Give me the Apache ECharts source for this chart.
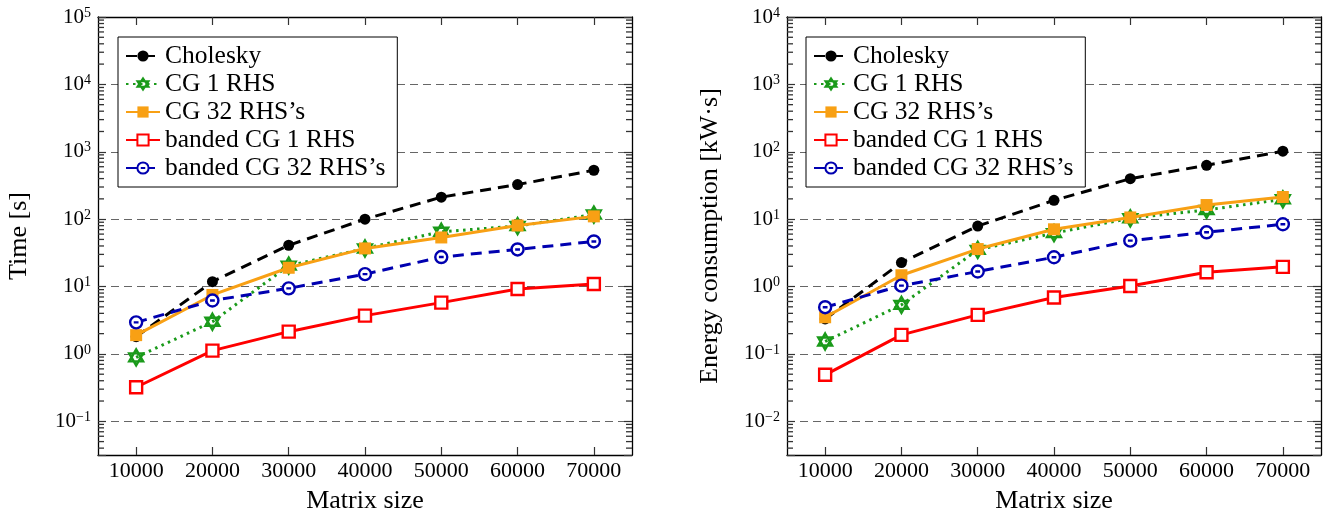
<!DOCTYPE html>
<html>
<head>
<meta charset="utf-8">
<script src="https://cdn.jsdelivr.net/npm/echarts@6/dist/echarts.min.js"></script>
<style>
  html, body { margin: 0; padding: 0; background: #fff; }
  #chart-container { width: 1326px; height: 521px; }
</style>
</head>
<body>
<div id="chart-container"></div>
<script>
var dom = document.getElementById('chart-container');
var myChart = echarts.init(dom, null, { renderer: 'canvas' });

// datos
var matrixSizes = ['10000', '20000', '30000', '40000', '50000', '60000', '70000'];
var seriesNames = ['Cholesky', 'CG 1 RHS', 'CG 32 RHS\u2019s', 'banded CG 1 RHS', 'banded CG 32 RHS\u2019s'];

// tiempo [s]
var timeCholesky = [1.8, 11.8, 41, 100, 212, 326, 532];
var timeCg1 = [0.89, 3.0, 20.4, 36.7, 65, 79, 117];
var timeCg32 = [1.9, 7.5, 19, 36.8, 53.5, 80.5, 110];
var timeBanded1 = [0.32, 1.12, 2.14, 3.7, 5.77, 9.2, 10.9];
var timeBanded32 = [2.94, 6.2, 9.4, 15.3, 27.4, 35.5, 46.7];

// energia [kW·s]
var energyCholesky = [0.33, 2.27, 7.9, 19, 39.8, 63, 102];
var energyCg1 = [0.153, 0.535, 3.5, 6.2, 10.3, 13.7, 19.7];
var energyCg32 = [0.35, 1.47, 3.6, 7.07, 10.6, 16.2, 21.3];
var energyBanded1 = [0.049, 0.192, 0.38, 0.687, 1.02, 1.63, 1.96];
var energyBanded32 = [0.494, 1.03, 1.67, 2.72, 4.8, 6.38, 8.4];

// rango de los ejes (exponentes de 10)
var timeExpRange = [-1.5, 5];
var energyExpRange = [-2.5, 4];
var minorMantissas = [2, 3, 4, 5, 6, 7, 8, 9];

var FONT = 'Liberation Serif';
var GREEN = '#1a9a1a';
var ORANGE = '#f8a014';
var BLUE = '#0000b0';
var RED = '#ff0000';
var TICK = '#333';

var STAR = 'path://M0,-10L8.66,5L-8.66,5Z M0,10L8.66,-5L-8.66,-5Z';
var OCIRC = 'path://M10,0A10,10,0,1,1,-10,0A10,10,0,1,1,10,0Z M-4,0L4,0';

// marcas menores: x = 0 (borde izquierdo) y x = 1 (borde derecho) en un eje oculto
function minorValues(range) {
  var out = [];
  for (var e = Math.floor(range[0]); e < range[1]; e++) {
    minorMantissas.forEach(function (m) {
      var v = m * Math.pow(10, e);
      var lv = Math.log10(v);
      if (lv > range[0] && lv < range[1]) {
        out.push({ value: [0, v], symbolOffset: [3, 0] });
        out.push({ value: [1, v], symbolOffset: [-3, 0] });
      }
    });
  }
  return out;
}

function makeSeries(g, data) {
  var styles = [
    { symbol: 'circle', symbolSize: 11, line: { color: '#000', type: [11, 7], width: 3 }, item: { color: '#000' } },
    { symbol: STAR, symbolSize: 16, line: { color: GREEN, type: [2.5, 4.5], width: 3 }, item: { color: '#fff', borderColor: GREEN, borderWidth: 2.4 } },
    { symbol: 'rect', symbolSize: 12, line: { color: ORANGE, type: 'solid', width: 3 }, item: { color: ORANGE } },
    { symbol: 'rect', symbolSize: 12, line: { color: RED, type: 'solid', width: 3 }, item: { color: '#fff', borderColor: RED, borderWidth: 2.4 } },
    { symbol: OCIRC, symbolSize: 12, line: { color: BLUE, type: [11, 7], width: 3 }, item: { color: '#fff', borderColor: BLUE, borderWidth: 2.4 } }
  ];
  return data.map(function (d, i) {
    var s = styles[i];
    return {
      name: seriesNames[i], type: 'line',
      xAxisIndex: g * 3, yAxisIndex: g * 2, data: d,
      symbol: s.symbol, symbolSize: s.symbolSize, symbolKeepAspect: true, showAllSymbol: true,
      lineStyle: s.line, itemStyle: s.item, z: 3 + i
    };
  });
}

function expLabel(v) {
  var lv = Math.log10(v);
  var e = Math.round(lv);
  if (Math.abs(lv - e) > 1e-6) return '';
  return '{b|10}{e|' + (e < 0 ? '\u2212' + (-e) : e) + '}';
}

function makeXAxes(g) {
  return [
    {
      type: 'category', gridIndex: g, data: matrixSizes, boundaryGap: true,
      axisLine: { onZero: false, lineStyle: { color: '#000', width: 1.3 } },
      axisTick: { show: true, inside: true, alignWithLabel: true, length: 8, lineStyle: { color: TICK, width: 1.2 } },
      axisLabel: { fontFamily: FONT, fontSize: 22, color: '#000', margin: 5 },
      name: 'Matrix size', nameLocation: 'middle', nameGap: 33,
      nameTextStyle: { fontFamily: FONT, fontSize: 26, color: '#000' }
    },
    {
      type: 'category', gridIndex: g, position: 'top', data: matrixSizes, boundaryGap: true,
      axisLine: { onZero: false, lineStyle: { color: '#000', width: 1.3 } },
      axisTick: { show: true, inside: true, alignWithLabel: true, length: 8, lineStyle: { color: TICK, width: 1.2 } },
      axisLabel: { show: false }
    },
    { type: 'value', gridIndex: g, min: 0, max: 1, show: false }
  ];
}

function makeYAxes(g, range, name, gap) {
  var lo = Math.pow(10, range[0]);
  var hi = Math.pow(10, range[1]);
  return [
    {
      type: 'log', logBase: 10, gridIndex: g, min: lo, max: hi,
      axisLine: { show: true, lineStyle: { color: '#000', width: 1.3 } },
      axisTick: { show: true, inside: true, length: 8, lineStyle: { color: TICK, width: 1.2 } },
      axisLabel: {
        formatter: expLabel, margin: 7, fontFamily: FONT, fontSize: 21, color: '#000',
        rich: {
          b: { fontFamily: FONT, fontSize: 21, color: '#000', lineHeight: 22 },
          e: { fontFamily: FONT, fontSize: 14, color: '#000', lineHeight: 14, verticalAlign: 'top' }
        }
      },
      splitLine: { show: true, lineStyle: { color: '#666', type: [8, 5], width: 1 } },
      name: name, nameLocation: 'middle', nameGap: gap,
      nameTextStyle: { fontFamily: FONT, fontSize: 26, color: '#000' }
    },
    {
      type: 'log', logBase: 10, gridIndex: g, min: lo, max: hi, position: 'right',
      axisLine: { show: true, lineStyle: { color: '#000', width: 1.3 } },
      axisTick: { show: true, inside: true, length: 8, lineStyle: { color: TICK, width: 1.2 } },
      axisLabel: { show: false },
      splitLine: { show: false }
    }
  ];
}

function makeLegend(left) {
  return {
    data: seriesNames, orient: 'vertical', left: left, top: 37,
    padding: [6, 12, 6, 7], itemGap: 2, itemWidth: 34, itemHeight: 14,
    backgroundColor: '#fff', borderColor: '#000', borderWidth: 1,
    selectedMode: false,
    textStyle: { fontFamily: FONT, fontSize: 25.5, color: '#000', lineHeight: 25 }
  };
}

function makeMinor(g, range) {
  return {
    type: 'scatter', name: 'minor' + g, xAxisIndex: g * 3 + 2, yAxisIndex: g * 2,
    silent: true, clip: false, z: 10,
    symbol: 'rect', symbolSize: [6, 1.3],
    itemStyle: { color: TICK, opacity: 1 },
    data: minorValues(range)
  };
}

var option = {
  animation: false,
  grid: [
    { left: 98, top: 17, width: 534, height: 438 },
    { left: 787, top: 17, width: 534, height: 438 }
  ],
  legend: [makeLegend(118), makeLegend(806)],
  xAxis: makeXAxes(0).concat(makeXAxes(1)),
  yAxis: makeYAxes(0, timeExpRange, 'Time [s]', 66)
    .concat(makeYAxes(1, energyExpRange, 'Energy consumption [kW\u00b7s]', 64)),
  series: makeSeries(0, [timeCholesky, timeCg1, timeCg32, timeBanded1, timeBanded32])
    .concat(makeSeries(1, [energyCholesky, energyCg1, energyCg32, energyBanded1, energyBanded32]))
    .concat([makeMinor(0, timeExpRange), makeMinor(1, energyExpRange)])
};

myChart.setOption(option);
window.addEventListener('resize', myChart.resize);
</script>
</body>
</html>
